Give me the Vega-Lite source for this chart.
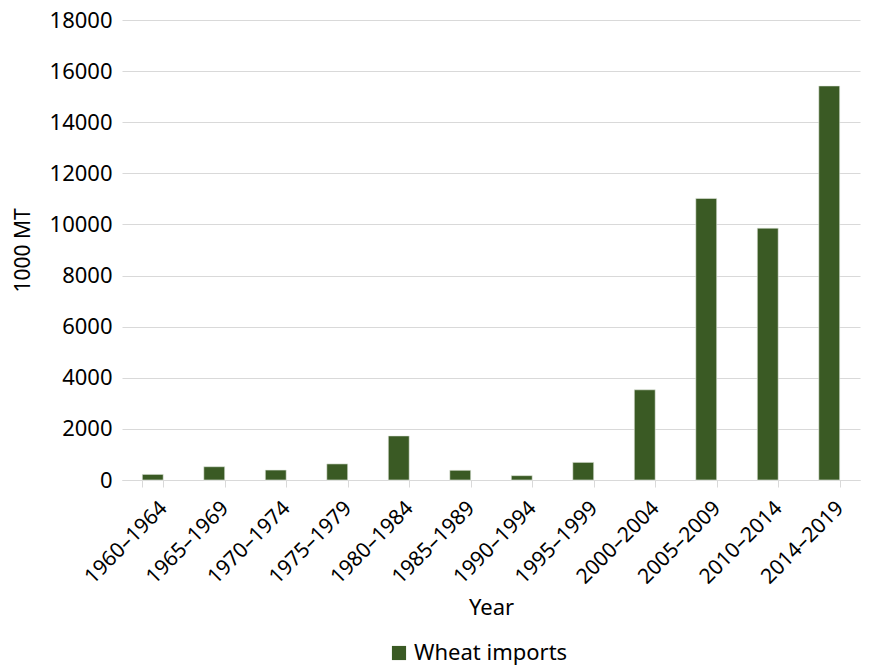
{
  "$schema": "https://vega.github.io/schema/vega-lite/v6.json",
  "autosize": {"type": "none"},
  "padding": {"left": 122, "top": 20, "right": 12, "bottom": 190},
  "width": 738,
  "height": 460,
  "background": "white",
  "config": {
    "font": "Noto Sans",
    "view": {"stroke": null},
    "axis": {"labelFont": "Noto Sans", "titleFont": "Noto Sans", "labelColor": "#000000", "titleColor": "#000000", "titleFontWeight": "normal"}
  },
  "data": {
    "values": [
      {"period": "1960–1964", "value": 220, "series": "Wheat imports"},
      {"period": "1965–1969", "value": 520, "series": "Wheat imports"},
      {"period": "1970–1974", "value": 390, "series": "Wheat imports"},
      {"period": "1975–1979", "value": 630, "series": "Wheat imports"},
      {"period": "1980–1984", "value": 1725, "series": "Wheat imports"},
      {"period": "1985–1989", "value": 380, "series": "Wheat imports"},
      {"period": "1990–1994", "value": 170, "series": "Wheat imports"},
      {"period": "1995–1999", "value": 690, "series": "Wheat imports"},
      {"period": "2000–2004", "value": 3530, "series": "Wheat imports"},
      {"period": "2005–2009", "value": 11020, "series": "Wheat imports"},
      {"period": "2010–2014", "value": 9855, "series": "Wheat imports"},
      {"period": "2014–2019", "value": 15420, "series": "Wheat imports"}
    ]
  },
  "mark": {"type": "bar", "stroke": "#e8ece4", "strokeWidth": 0.6},
  "encoding": {
    "x": {
      "field": "period",
      "type": "nominal",
      "sort": null,
      "scale": {"paddingInner": 0.66, "paddingOuter": 0.33},
      "axis": {
        "title": "Year",
        "titleFontSize": 22,
        "titlePadding": 10,
        "labelFontSize": 21,
        "labelAngle": -45,
        "labelAlign": "right",
        "labelBaseline": "top",
        "labelPadding": 10,
        "labelOffset": 3,
        "tickBand": "extent",
        "tickColor": "#d9d9d9",
        "tickSize": 7,
        "domainColor": "#d9d9d9",
        "grid": false
      }
    },
    "y": {
      "field": "value",
      "type": "quantitative",
      "scale": {"domain": [0, 18000]},
      "axis": {
        "title": "1000 MT",
        "titleFontSize": 21,
        "titlePadding": 16,
        "labelFontSize": 22,
        "values": [0, 2000, 4000, 6000, 8000, 10000, 12000, 14000, 16000, 18000],
        "format": "d",
        "domain": false,
        "ticks": false,
        "labelPadding": 10,
        "gridColor": "#d9d9d9",
        "gridWidth": 1
      }
    },
    "color": {
      "field": "series",
      "type": "nominal",
      "scale": {"range": ["#3a5a24"]},
      "legend": {
        "title": null,
        "orient": "none",
        "legendX": 266,
        "legendY": 622,
        "direction": "horizontal",
        "symbolType": "square",
        "symbolSize": 200,
        "symbolStrokeWidth": 0,
        "labelFontSize": 22,
        "labelFont": "Noto Sans",
        "labelColor": "#000000"
      }
    }
  }
}
